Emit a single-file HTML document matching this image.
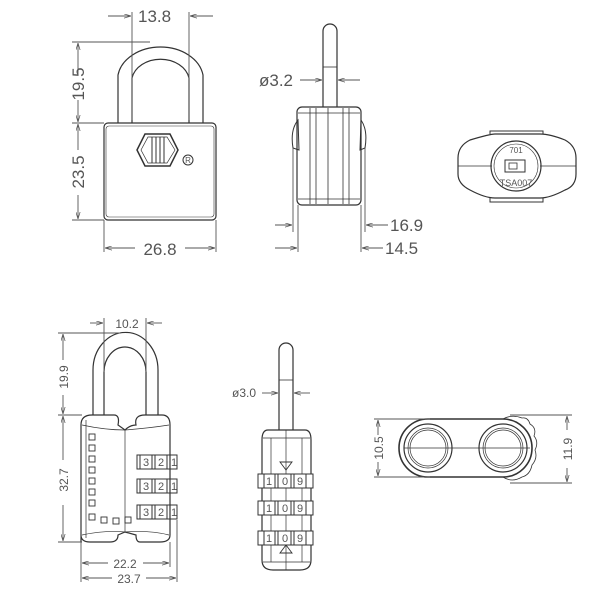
<!DOCTYPE html>
<html><head><meta charset="utf-8"><style>
html,body{margin:0;padding:0;background:#fff;width:600px;height:600px;overflow:hidden}
text{font-family:"Liberation Sans",sans-serif;fill:#555}
</style></head><body>
<svg width="600" height="600" viewBox="0 0 600 600" xmlns="http://www.w3.org/2000/svg">
<defs>
<marker id="a" viewBox="0 0 10 6" refX="10" refY="3" markerWidth="8" markerHeight="5" orient="auto"><path d="M0,0 L10,3 L0,6" fill="none" stroke="#555"/></marker>
</defs>
<g fill="none" stroke="#333" stroke-width="1.2">
<path d="M118,123 V75 A43,33 0 0 1 203,75 V123"/>
<path d="M132,123 V78 A29,23 0 0 1 189,78 V123"/>
<rect x="104" y="123" width="112" height="97" rx="4"/>
<rect x="106" y="126" width="108" height="91" rx="3" stroke-width="0.6"/>
<path d="M137,150 L145,134 L170,134 L178,150 L170,166 L145,166 Z" stroke-width="1.5"/>
<path d="M141,150 L148,137 L167,137 L175,150 L167,163 L148,163 Z" stroke-width="0.7"/>
<path d="M152,137 V163 M156,137 V163 M160,137 V163 M164,137 V163" stroke-width="1"/>
<circle cx="188" cy="160" r="5" stroke-width="1"/>
<g stroke="#555" stroke-width="0.9">
<path d="M132,12 V120 M189,12 V120"/>
<path d="M108,16 H131" marker-end="url(#a)"/><path d="M213,16 H190" marker-end="url(#a)"/>
<path d="M72,42 H150 M72,123 H104 M72,220 H104"/>
<path d="M78,75 V43" marker-end="url(#a)"/><path d="M78,100 V122" marker-end="url(#a)"/>
<path d="M78,150 V124" marker-end="url(#a)"/><path d="M78,195 V219" marker-end="url(#a)"/>
<path d="M104,220 V252 M216,220 V252"/>
<path d="M135,248 H105" marker-end="url(#a)"/><path d="M185,248 H215" marker-end="url(#a)"/>
</g>
<path d="M323,107 V31 A7,7 0 0 1 337,31 V107"/>
<path d="M323,67 H337" stroke-width="0.8"/>
<rect x="297" y="107" width="64" height="98" rx="5"/>
<path d="M298,113 H360 M298,199 H360 M310,108 V204 M316,108 V204 M328,108 V204 M343,108 V204 M349,108 V204" stroke-width="0.8"/>
<path d="M298,120 Q290,130 293,148 L299,150 Z M361,120 Q368,130 365,148 L360,150 Z" stroke-width="1"/>
<g stroke="#555" stroke-width="0.9">
<path d="M293,148 V232 M298,205 V252 M365,148 V232 M361,205 V252"/>
<path d="M300,80 H322" marker-end="url(#a)"/><path d="M360,80 H338" marker-end="url(#a)"/>
<path d="M275,225 H292" marker-end="url(#a)"/><path d="M388,225 H366" marker-end="url(#a)"/>
<path d="M275,248 H297" marker-end="url(#a)"/><path d="M383,248 H362" marker-end="url(#a)"/>
</g>
<path d="M470,140 Q490,134 495,134 H540 Q550,134 565,140 Q576,146 576,158 V174 Q576,186 565,190 Q550,198 540,198 H495 Q485,198 470,190 Q458,184 458,174 V158 Q458,146 470,140 Z"/>
<path d="M490,134 V131 H543 V134 M490,198 V202 H543 V198" stroke-width="1"/>
<path d="M458,166 H492 M540,166 H576" stroke-width="0.8"/>
<circle cx="516" cy="166" r="25"/>
<circle cx="516" cy="166" r="22" stroke-width="0.6"/>
<rect x="505" y="160" width="20" height="12" stroke-width="1"/>
<rect x="509" y="163" width="8" height="6" stroke-width="0.8"/>
<path d="M93,415 V370 A32,37 0 0 1 158,370 V415"/>
<path d="M104,415 V372 A21,25 0 0 1 146,372 V415"/>
<path d="M81,542 V425 Q81,415 92,415 H114 Q120,415 118,425 Q125,430 125,430 Q130,425 136,425 Q134,415 145,415 H162 Q170,415 170,425 V535 Q170,542 160,542 H140 Q136,542 136,535 L125,532 L118,535 Q118,542 110,542 H90 Q81,542 81,535 Z"/>
<path d="M82,425 Q105,430 125,430 Q150,428 169,425 M82,535 Q105,530 125,532 Q150,530 169,535" stroke-width="0.7"/>
<path d="M125,430 V532 M86,420 V538" stroke-width="0.7"/>
<g stroke-width="0.9">
<rect x="89" y="434" width="6" height="6"/><rect x="89" y="445" width="6" height="6"/>
<rect x="89" y="456" width="6" height="6"/><rect x="89" y="467" width="6" height="6"/>
<rect x="89" y="478" width="6" height="6"/><rect x="89" y="489" width="6" height="6"/>
<rect x="89" y="500" width="6" height="6"/><rect x="89" y="514" width="6" height="6"/>
<rect x="101" y="517" width="6" height="6"/><rect x="113" y="518" width="6" height="6"/>
<rect x="125" y="517" width="6" height="6"/>
</g>
<g stroke-width="1">
<rect x="137" y="455" width="40" height="14"/><rect x="137" y="479" width="40" height="14"/><rect x="137" y="505" width="40" height="14"/>
<path d="M140,455 V469 M152,455 V469 M155,455 V469 M167,455 V469 M170,455 V469 M140,479 V493 M152,479 V493 M155,479 V493 M167,479 V493 M170,479 V493 M140,505 V519 M152,505 V519 M155,505 V519 M167,505 V519 M170,505 V519"/>
</g>
<g stroke="#555" stroke-width="0.9">
<path d="M104,318 V372 M146,318 V372"/>
<path d="M90,323 H103" marker-end="url(#a)"/><path d="M162,323 H147" marker-end="url(#a)"/>
<path d="M58,333 H120 M58,415 H82 M58,542 H82"/>
<path d="M63,360 V334" marker-end="url(#a)"/><path d="M63,395 V414" marker-end="url(#a)"/>
<path d="M63,460 V416" marker-end="url(#a)"/><path d="M63,505 V541" marker-end="url(#a)"/>
<path d="M81,542 V582 M170,542 V567 M177,520 V582"/>
<path d="M108,563 H82" marker-end="url(#a)"/><path d="M143,563 H169" marker-end="url(#a)"/>
<path d="M112,578 H82" marker-end="url(#a)"/><path d="M146,578 H176" marker-end="url(#a)"/>
</g>
<path d="M279,430 V350 A7,7 0 0 1 293,350 V430"/>
<path d="M279,380 H293" stroke-width="0.8"/>
<path d="M268,430 H305 Q311,430 311,440 V560 Q311,570 300,570 H273 Q262,570 262,560 V440 Q262,430 268,430 Z"/>
<path d="M263,438 H310 M263,562 H310 M271,438 V562 M302,438 V562 M286,430 V570" stroke-width="0.7"/>
<path d="M280,462 H292 L286,470 Z M280,553 H292 L286,545 Z" stroke-width="0.9"/>
<g stroke-width="1">
<rect x="258" y="474" width="55" height="14" fill="#fff"/><rect x="258" y="501" width="55" height="14" fill="#fff"/><rect x="258" y="531" width="55" height="14" fill="#fff"/>
<path d="M264,474 V488 M275,474 V488 M278,474 V488 M291,474 V488 M294,474 V488 M306,474 V488 M264,501 V515 M275,501 V515 M278,501 V515 M291,501 V515 M294,501 V515 M306,501 V515 M264,531 V545 M275,531 V545 M278,531 V545 M291,531 V545 M294,531 V545 M306,531 V545"/>
</g>
<g stroke="#555" stroke-width="0.9">
<path d="M262,393 H278" marker-end="url(#a)"/><path d="M310,393 H294" marker-end="url(#a)"/>
</g>
<path d="M428,419 H503 A29,29 0 0 1 503,477 H428 A29,29 0 0 1 428,419 Z" stroke-width="1.6"/>
<path d="M503,419 Q512,414 522,418 Q528,417 530,424 Q537,428 534,436 Q539,442 535,450 Q538,458 532,465 Q530,475 522,477 Q512,483 503,477" stroke-width="0.8"/>
<circle cx="428" cy="448" r="24"/><circle cx="428" cy="448" r="20" stroke-width="0.7"/><circle cx="428" cy="448" r="18" stroke-width="0.7"/>
<circle cx="503" cy="448" r="24"/><circle cx="503" cy="448" r="20" stroke-width="0.7"/><circle cx="503" cy="448" r="18" stroke-width="0.7"/>
<path d="M404,448 H530" stroke-width="0.8"/>
<g stroke="#555" stroke-width="0.9">
<path d="M374,419 H430 M374,477 H430 M510,415 H572 M510,483 H572"/>
<path d="M378,435 V420" marker-end="url(#a)"/><path d="M378,462 V476" marker-end="url(#a)"/>
<path d="M567,430 V416" marker-end="url(#a)"/><path d="M567,468 V482" marker-end="url(#a)"/>
</g>
</g>
<text x="138" y="22" font-size="17">13.8</text>
<text x="160" y="255" font-size="17" text-anchor="middle">26.8</text>
<text transform="translate(84,84) rotate(-90)" font-size="17" text-anchor="middle">19.5</text>
<text transform="translate(84,172) rotate(-90)" font-size="17" text-anchor="middle">23.5</text>
<text x="259" y="86" font-size="17">ø3.2</text>
<text x="390" y="231" font-size="17">16.9</text>
<text x="385" y="254" font-size="17">14.5</text>
<text x="188" y="163" font-size="8" text-anchor="middle" fill="#333">R</text>
<text x="516" y="153" font-size="8" text-anchor="middle" fill="#333">701</text>
<text x="516" y="186" font-size="9" text-anchor="middle" fill="#333">TSA007</text>
<text x="127" y="328" font-size="12" text-anchor="middle">10.2</text>
<text transform="translate(68,377) rotate(-90)" font-size="12" text-anchor="middle">19.9</text>
<text transform="translate(68,480) rotate(-90)" font-size="12" text-anchor="middle">32.7</text>
<text x="125" y="568" font-size="12" text-anchor="middle">22.2</text>
<text x="129" y="583" font-size="12" text-anchor="middle">23.7</text>
<g font-size="11" text-anchor="middle">
<text x="146" y="466" fill="#222">3</text><text x="161" y="466" fill="#222">2</text><text x="174" y="466" fill="#222">1</text>
<text x="146" y="490" fill="#222">3</text><text x="161" y="490" fill="#222">2</text><text x="174" y="490" fill="#222">1</text>
<text x="146" y="516" fill="#222">3</text><text x="161" y="516" fill="#222">2</text><text x="174" y="516" fill="#222">1</text>
<text x="269" y="485" fill="#222">1</text><text x="285" y="485" fill="#222">0</text><text x="300" y="485" fill="#222">9</text>
<text x="269" y="512" fill="#222">1</text><text x="285" y="512" fill="#222">0</text><text x="300" y="512" fill="#222">9</text>
<text x="269" y="542" fill="#222">1</text><text x="285" y="542" fill="#222">0</text><text x="300" y="542" fill="#222">9</text>
</g>
<text x="232" y="397" font-size="12">ø3.0</text>
<text transform="translate(383,448) rotate(-90)" font-size="12" text-anchor="middle">10.5</text>
<text transform="translate(572,449) rotate(-90)" font-size="12" text-anchor="middle">11.9</text>
</svg>
</body></html>
